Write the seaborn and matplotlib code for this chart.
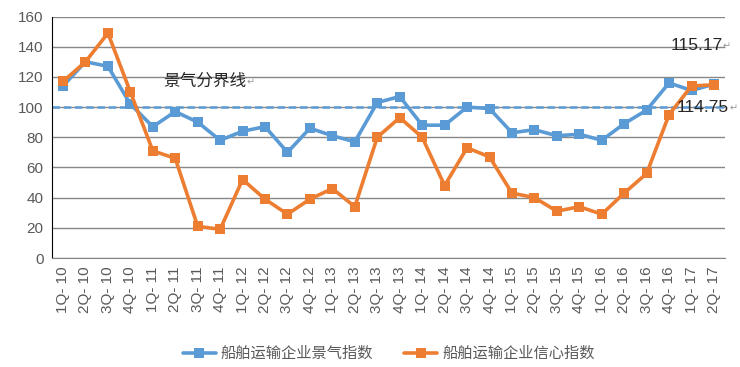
import pandas as pd
import numpy as np
import seaborn as sns
import matplotlib.pyplot as plt

# quarters
quarters = ['1Q-10', '2Q-10', '3Q-10', '4Q-10',
            '1Q-11', '2Q-11', '3Q-11', '4Q-11',
            '1Q-12', '2Q-12', '3Q-12', '4Q-12',
            '1Q-13', '2Q-13', '3Q-13', '4Q-13',
            '1Q-14', '2Q-14', '3Q-14', '4Q-14',
            '1Q-15', '2Q-15', '3Q-15', '4Q-15',
            '1Q-16', '2Q-16', '3Q-16', '4Q-16',
            '1Q-17', '2Q-17']

# 船舶运输企业景气指数
prosperity = [114, 130, 127, 102, 87, 97, 90, 78, 84, 87, 70, 86, 81, 77, 103,
              107, 88, 88, 100, 99, 83, 85, 81, 82, 78, 89, 98, 116, 111, 115.17]

# 船舶运输企业信心指数
confidence = [117, 130, 149, 110, 71, 66, 21, 19, 52, 39, 29, 39, 46, 34, 80,
              93, 80, 48, 73, 67, 43, 40, 31, 34, 29, 43, 56, 95, 114, 114.75]

boundary = 100

sns.set_style('white')
plt.rcParams['font.family'] = ['Liberation Sans', 'Noto Sans CJK SC', 'DejaVu Sans']

df = pd.DataFrame({
    'quarter': quarters * 2,
    'value': prosperity + confidence,
    'series': ['船舶运输企业景气指数'] * len(quarters) + ['船舶运输企业信心指数'] * len(quarters)
})
df['pos'] = list(range(len(quarters))) * 2

fig, ax = plt.subplots(figsize=(7.4, 3.67), dpi=100)
fig.subplots_adjust(left=0.07, right=0.98, top=0.955, bottom=0.297)

sns.lineplot(data=df, x='pos', y='value', hue='series',
             palette=['#5B9BD5', '#ED7D31'], marker='s', markersize=7,
             markeredgewidth=0, linewidth=2.6, ax=ax, legend=True)

ax.axhline(boundary, color='#5B9BD5', linestyle=(0, (3, 1.5)), linewidth=1.8, zorder=1)

ax.set_ylim(0, 160)
ax.set_yticks(range(0, 161, 20))
ax.set_xlim(-0.5, len(quarters) - 0.5)
ax.set_xticks(range(len(quarters)))
ax.set_xticklabels([q.replace('-', '- ') for q in quarters], rotation=90,
                   fontsize=11, color='#595959')
ax.set_xticks(np.arange(-0.5, len(quarters), 1), minor=True)
ax.tick_params(axis='x', which='major', length=0, pad=6)
ax.tick_params(axis='x', which='minor', length=4, color='#878787')
ax.tick_params(axis='y', labelsize=11, labelcolor='#595959', length=0, pad=6)
ax.set_xlabel('')
ax.set_ylabel('')
ax.yaxis.grid(True, color='#878787', linewidth=1)
ax.set_axisbelow(True)

for s in ['top', 'right']:
    ax.spines[s].set_visible(False)
ax.spines['left'].set_color('black')
ax.spines['bottom'].set_color('#878787')

# annotations with the grey return marks seen in the original
notes = [
    (4.45, 117, '景气分界线', ['Noto Sans CJK SC', 'DejaVu Sans'], 12),
    (27.05, 141, '115.17', ['Liberation Sans'], 12.5),
    (27.35, 100, '114.75', ['Liberation Sans'], 12.5),
]
for x, y, s, fam, fs in notes:
    t = ax.text(x, y, s, fontsize=fs, va='center', ha='left', family=fam)
    ax.annotate('↵', xy=(1, 0.45), xycoords=t, va='center', ha='left',
                fontsize=7, color='#9a9a9a', family=['DejaVu Sans'])

ax.legend(loc='upper center', bbox_to_anchor=(0.5, -0.31), ncol=2, frameon=False,
          fontsize=11, labelcolor='#595959', handlelength=2.2, columnspacing=2,
          handletextpad=0.3)

plt.savefig('out.png', dpi=100)
